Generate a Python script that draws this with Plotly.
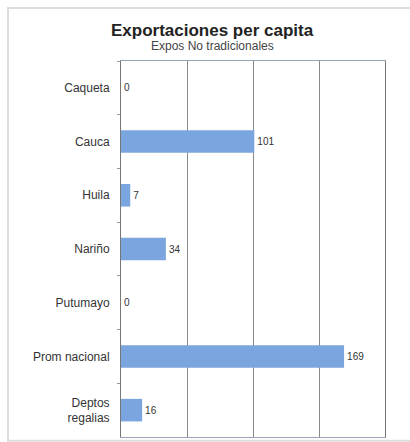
import plotly.graph_objects as go

# Exportaciones no tradicionales per cápita por departamento
categories = ["Caqueta", "Cauca", "Huila", "Nariño", "Putumayo",
              "Prom nacional", "Deptos<br>regalias"]
values = [0, 101, 7, 34, 0, 169, 16]
x_ticks = [0, 50, 100, 150, 200]

fig = go.Figure()
fig.add_trace(go.Bar(
    x=values,
    y=categories,
    orientation="h",
    marker=dict(color="#7BA5DE", line=dict(width=0)),
    text=[str(v) for v in values],
    textposition="outside",
    textfont=dict(family="Arial", size=10, color="#333333"),
    cliponaxis=False,
))

fig.update_layout(
    width=410,
    height=442,
    margin=dict(l=121, r=25, t=61, b=5),
    paper_bgcolor="white",
    plot_bgcolor="white",
    bargap=0.58,
    showlegend=False,
    font=dict(family="Arial", size=12, color="#333333"),
    annotations=[
        dict(text="<b>Exportaciones per capita</b>", xref="paper", yref="paper",
             x=0.348, y=1.082, xanchor="center", yanchor="middle",
             showarrow=False, font=dict(family="Arial", size=17, color="#222222")),
        dict(text="Expos No tradicionales", xref="paper", yref="paper",
             x=0.348, y=1.040, xanchor="center", yanchor="middle",
             showarrow=False, font=dict(family="Arial", size=12, color="#444444")),
    ],
    xaxis=dict(
        range=[0, 200],
        tickvals=x_ticks,
        showticklabels=False,
        showgrid=True,
        gridcolor="#8a8a8a",
        gridwidth=1,
        zeroline=False,
        showline=True,
        linecolor="#9aa3b5",
        mirror=True,
        fixedrange=True,
    ),
    yaxis=dict(
        autorange="reversed",
        ticks="outside",
        tickson="boundaries",
        ticklen=3,
        tickcolor="#999999",
        showline=True,
        linecolor="#777777",
        linewidth=1,
        mirror=True,
        showgrid=False,
        ticklabelstandoff=8,
        tickfont=dict(family="Arial", size=12, color="#333333"),
    ),
    shapes=[
        dict(type="rect", xref="paper", yref="paper",
             x0=-0.428, x1=1.1, y0=-0.01, y1=1.141,
             line=dict(color="#dddddd", width=2), layer="below"),
    ],
)

fig.write_html("out.html")
